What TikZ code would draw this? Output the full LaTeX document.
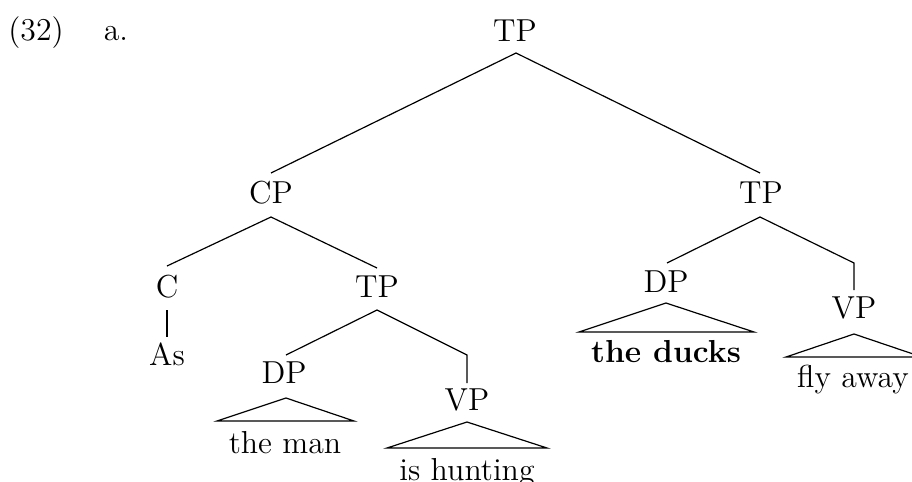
\documentclass[tikz,border=0pt,12pt]{standalone}
\begin{document}
\begin{tikzpicture}[x=0.3774pt,y=-0.3774pt,
  lbl/.style={anchor=base,inner sep=0pt,outer sep=0pt},
  edge/.style={line width=0.45pt,line join=miter}]
\useasboundingbox (0,0) rectangle (912,481);
\begin{scope}
\clip (0,0) rectangle (912,481);
% labels
\node[lbl] (ex) at (36,40) {(32)};
\node[lbl] (sub) at (116,40) {a.};
\node[lbl] (root) at (515,41) {TP};
\node[lbl] (cp) at (271,203) {CP};
\node[lbl] (tpr) at (761,203) {TP};
\node[lbl] (c) at (167,297) {C};
\node[lbl] (tpi) at (377,297) {TP};
\node[lbl] (as) at (167,365) {As};
\node[lbl] (dpl) at (284,383) {DP};
\node[lbl] (vpl) at (467,410) {VP};
\node[lbl] (man) at (285,453) {the man};
\node[lbl] (hunt) at (467,480) {is hunting};
\node[lbl] (dpr) at (666,292) {DP};
\node[lbl] (ducks) at (666,362) {\bfseries the ducks};
\node[lbl] (vpr) at (854,318) {VP};
\node[lbl] (fly) at (853,387) {fly away};
% attachment points
\coordinate (rootB) at (516,53);
\coordinate (cpT) at (271,173);
\coordinate (tprT) at (760,173);
\coordinate (cpB) at (271,217);
\coordinate (cT) at (167,266);
\coordinate (tpiT) at (377,268);
\coordinate (cB) at (167,310);
\coordinate (asT) at (167,337);
\coordinate (tpiB) at (377,310);
\coordinate (dplT) at (286,355);
\coordinate (vplK) at (467,355);
\coordinate (vplT) at (467,383);
\coordinate (dplA) at (286,398);
\coordinate (dplL) at (217,421);
\coordinate (dplR) at (354,421);
\coordinate (vplA) at (467,422);
\coordinate (vplL) at (387,448);
\coordinate (vplR) at (547,448);
\coordinate (tprB) at (760,217);
\coordinate (dprT) at (667,263);
\coordinate (vprK) at (854,263);
\coordinate (vprT) at (854,290);
\coordinate (dprA) at (666,303);
\coordinate (dprL) at (579,332);
\coordinate (dprR) at (754,332);
\coordinate (vprA) at (854,334);
\coordinate (vprL) at (786,357);
\coordinate (vprR) at (922,357);
% branches
\draw[edge] (cpT) -- (rootB) -- (tprT);
\draw[edge] (cT) -- (cpB) -- (tpiT);
\draw[edge] (cB) -- (asT);
\draw[edge] (dplT) -- (tpiB) -- (vplK) -- (vplT);
\draw[edge] (dplA) -- (dplL) -- (dplR) -- cycle;
\draw[edge] (vplA) -- (vplL) -- (vplR) -- cycle;
\draw[edge] (dprT) -- (tprB) -- (vprK) -- (vprT);
\draw[edge] (dprA) -- (dprL) -- (dprR) -- cycle;
\draw[edge] (vprA) -- (vprL) -- (vprR) -- cycle;
\end{scope}
\end{tikzpicture}
\end{document}
